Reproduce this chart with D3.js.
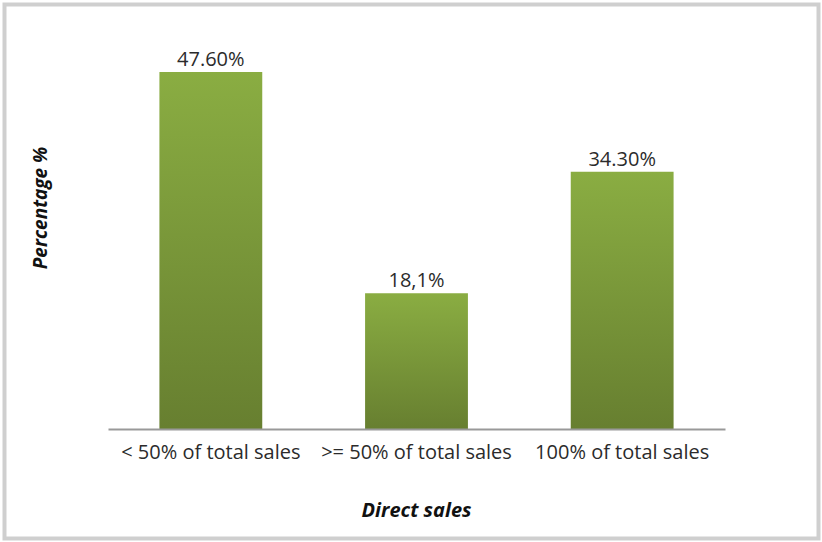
<!DOCTYPE html>
<html>
<head>
<meta charset="utf-8">
<script src="https://cdn.jsdelivr.net/npm/d3@7"></script>
<style>
  body { margin: 0; background: #fff; }
  svg text { font-family: "Open Sans", "Liberation Sans", sans-serif; }
</style>
</head>
<body>
<svg id="drawing_region"></svg>
<script>
const categories = ['< 50% of total sales', '>= 50% of total sales', '100% of total sales'];
const values = [47.6, 18.1, 34.3];
const value_labels = ['47.60%', '18,1%', '34.30%'];

const width = 822, height = 542;
const margin = {top: 54, left: 108, right: 97, bottom: 113};
const inner_width = width - margin.left - margin.right;
const inner_height = height - margin.top - margin.bottom;

const svg = d3.select('#drawing_region')
    .attr('width', width)
    .attr('height', height);

// frame
svg.append('rect')
    .attr('x', 4.5).attr('y', 4.5)
    .attr('width', 814).attr('height', 534)
    .attr('fill', '#fff')
    .attr('stroke', '#cfcfcf')
    .attr('stroke-width', 4);

const defs = svg.append('defs');
const grad = defs.append('linearGradient')
    .attr('id', 'bar_grad')
    .attr('x1', 0).attr('y1', 0).attr('x2', 0).attr('y2', 1);
grad.append('stop').attr('offset', '0%').attr('stop-color', '#8aad42');
grad.append('stop').attr('offset', '100%').attr('stop-color', '#677f30');

const chart = svg.append('g')
    .attr('transform', `translate(${margin.left}, ${margin.top})`);

const xscale = d3.scaleBand()
    .domain(categories)
    .range([0, inner_width])
    .paddingInner(0.5)
    .paddingOuter(0.25);

const yscale = d3.scaleLinear()
    .domain([0, 50])
    .range([inner_height, 0]);

const data = categories.map((c, i) => ({cat: c, value: values[i], label: value_labels[i]}));

chart.selectAll('rect.bar')
    .data(data)
    .enter()
    .append('rect')
    .attr('class', 'bar')
    .attr('x', d => xscale(d.cat))
    .attr('y', d => yscale(d.value))
    .attr('width', xscale.bandwidth())
    .attr('height', d => inner_height - yscale(d.value))
    .attr('fill', 'url(#bar_grad)');

chart.selectAll('text.value')
    .data(data)
    .enter()
    .append('text')
    .attr('class', 'value')
    .attr('x', d => xscale(d.cat) + xscale.bandwidth() / 2)
    .attr('y', d => yscale(d.value) - 6)
    .attr('text-anchor', 'middle')
    .attr('font-size', '20px')
    .attr('fill', '#2b2b2b')
    .text(d => d.label);

// x axis
const xaxis = d3.axisBottom(xscale).tickSize(0).tickPadding(16);
const xaxis_group = chart.append('g')
    .attr('transform', `translate(0, ${inner_height})`)
    .call(xaxis);
xaxis_group.select('.domain')
    .attr('stroke', '#999')
    .attr('stroke-width', 2);
xaxis_group.selectAll('text')
    .attr('font-size', '20px')
    .attr('fill', '#2b2b2b')
    .style('font-family', '"Open Sans", "Liberation Sans", sans-serif');

svg.append('text')
    .attr('x', margin.left + inner_width / 2)
    .attr('y', 517)
    .attr('text-anchor', 'middle')
    .attr('font-size', '20px')
    .attr('font-weight', 'bold')
    .attr('font-style', 'italic')
    .attr('fill', '#111')
    .text('Direct sales');

svg.append('text')
    .attr('transform', 'translate(47, 208) rotate(-90)')
    .attr('text-anchor', 'middle')
    .attr('font-size', '19px')
    .attr('font-weight', 'bold')
    .attr('font-style', 'italic')
    .attr('fill', '#111')
    .text('Percentage %');
</script>
</body>
</html>
